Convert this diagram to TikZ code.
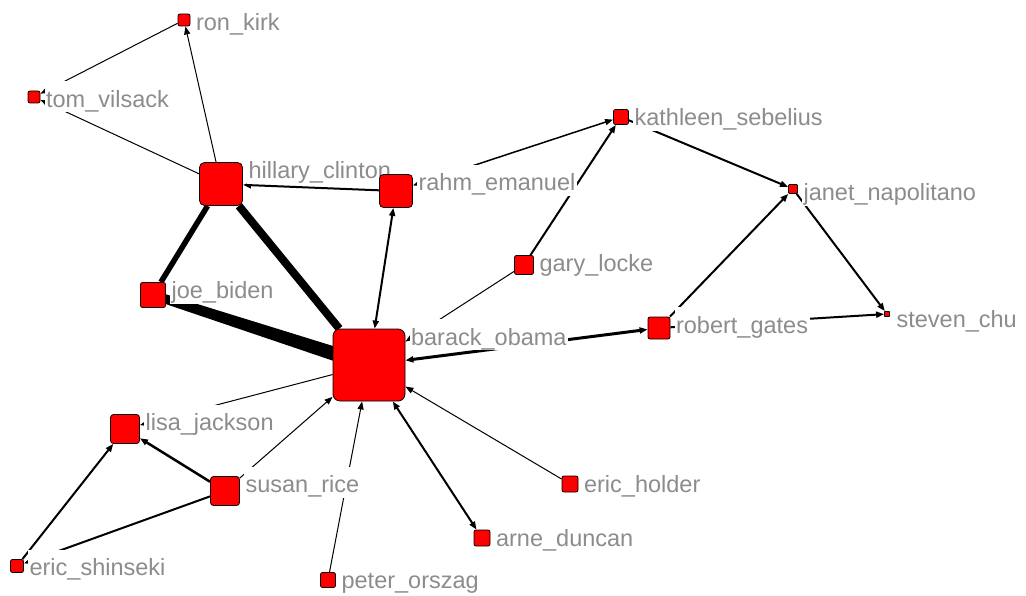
\documentclass[tikz,border=0pt]{standalone}
\usepackage{fontspec}
\setmainfont{Liberation Sans}
\usetikzlibrary{arrows.meta,calc}
\pgfdeclarelayer{edges}
\pgfdeclarelayer{labels}
\pgfsetlayers{edges,labels,main}
\definecolor{lblgray}{RGB}{140,140,140}
\definecolor{nodered}{RGB}{255,0,0}
\begin{document}
\begin{tikzpicture}[x=1pt,y=-1pt,
  actor/.style 2 args={draw=black, line width=0.8pt, fill=nodered, minimum size=#1, inner sep=0pt, rounded corners=#2},
  lbl/.style={anchor=base west, fill=white, inner xsep=1.5pt, inner ysep=1pt, text height=25pt, text depth=4pt, text=lblgray, font=\fontsize{23.5}{28}\selectfont},
  tie/.style={draw=black, line width=#1},
  arr/.style={-{Triangle[length=8pt,width=6pt]}},
  arrtwo/.style={{Triangle[length=8pt,width=6pt]}-{Triangle[length=8pt,width=6pt]}}
]
\useasboundingbox (0,0) rectangle (1026,596);

% nodes
\node[actor={12pt}{2pt}] (ron) at (184,20) {};
\node[actor={12pt}{2pt}] (tom) at (34,97) {};
\node[actor={43pt}{5pt}] (hillary) at (221,184) {};
\node[actor={33pt}{4pt}] (rahm) at (396,191) {};
\node[actor={25pt}{2pt}] (biden) at (153,295) {};
\node[actor={72pt}{7pt}] (barack) at (369,365) {};
\node[actor={15pt}{2pt}] (kathleen) at (621,117) {};
\node[actor={19pt}{2pt}] (gary) at (524,265) {};
\node[actor={9pt}{1pt}] (janet) at (793,189) {};
\node[actor={22pt}{2pt}] (robert) at (659,328) {};
\node[actor={5pt}{0.5pt}] (steven) at (887,314) {};
\node[actor={29pt}{3pt}] (lisa) at (125,429) {};
\node[actor={29pt}{3pt}] (susan) at (225,491) {};
\node[actor={13pt}{2pt}] (shinseki) at (17,566) {};
\node[actor={15pt}{2pt}] (peter) at (328,580) {};
\node[actor={16pt}{2pt}] (holder) at (570,484) {};
\node[actor={16pt}{2pt}] (arne) at (482,538) {};

% edges
\begin{pgfonlayer}{edges}
\draw[tie=1pt, arr] (hillary) -- (ron);
\draw[tie=1pt, arr] (ron) -- (tom);
\draw[tie=1pt, arr] (hillary) -- (tom);
\draw[tie=2pt, arr] (rahm) -- (hillary);
\draw[tie=5.5pt] (hillary) -- (biden);
\draw[tie=8pt] (hillary) -- (barack);
\fill[black] ($(biden)!4.5pt!90:(barack)$) -- ($(barack)!7.5pt!-90:(biden)$)
   -- ($(barack)!7.5pt!90:(biden)$) -- ($(biden)!4.5pt!-90:(barack)$) -- cycle;
\draw[tie=2pt, arrtwo] (rahm) -- (barack);
\draw[tie=1pt, arr] (gary) -- (barack);
\draw[tie=2pt, arr] (gary) -- (kathleen);
\draw[tie=1.5pt, arrtwo] (rahm) -- (kathleen);
\draw[tie=2pt, arr] (kathleen) -- (janet);
\draw[tie=2pt, arr] (robert) -- (janet);
\draw[tie=2pt, arr] (janet) -- (steven);
\draw[tie=2pt, arr] (robert) -- (steven);
\draw[tie=3pt, arrtwo] (barack) -- (robert);
\draw[tie=1pt, arr] (barack) -- (lisa);
\draw[tie=2.5pt, arr] (susan) -- (lisa);
\draw[tie=2pt, arr] (shinseki) -- (lisa);
\draw[tie=2pt, arr] (susan) -- (shinseki);
\draw[tie=1pt, arr] (susan) -- (barack);
\draw[tie=1pt, arr] (peter) -- (barack);
\draw[tie=1pt, arr] (holder) -- (barack);
\draw[tie=2pt, arrtwo] (barack) -- (arne);
\end{pgfonlayer}

% labels
\begin{pgfonlayer}{labels}
\node[lbl] (ron-l) at ($(ron.north east)+(4,16.5)$) {ron\_kirk};
\node[lbl] (tom-l) at ($(tom.north east)+(4,16.5)$) {tom\_vilsack};
\node[lbl] (hillary-l) at ($(hillary.north east)+(4,16.5)$) {hillary\_clinton};
\node[lbl] (rahm-l) at ($(rahm.north east)+(4,16.5)$) {rahm\_emanuel};
\node[lbl] (biden-l) at ($(biden.north east)+(4,16.5)$) {joe\_biden};
\node[lbl] (barack-l) at ($(barack.north east)+(4,16.5)$) {barack\_obama};
\node[lbl] (kathleen-l) at ($(kathleen.north east)+(4,16.5)$) {kathleen\_sebelius};
\node[lbl] (gary-l) at ($(gary.north east)+(4,16.5)$) {gary\_locke};
\node[lbl] (janet-l) at ($(janet.north east)+(4,16.5)$) {janet\_napolitano};
\node[lbl] (robert-l) at ($(robert.north east)+(4,16.5)$) {robert\_gates};
\node[lbl] (steven-l) at ($(steven.north east)+(5,16.5)$) {steven\_chu};
\node[lbl] (lisa-l) at ($(lisa.north east)+(4,16.5)$) {lisa\_jackson};
\node[lbl] (susan-l) at ($(susan.north east)+(4,16.5)$) {susan\_rice};
\node[lbl] (shinseki-l) at ($(shinseki.north east)+(4,16.5)$) {eric\_shinseki};
\node[lbl] (peter-l) at ($(peter.north east)+(4,16.5)$) {peter\_orszag};
\node[lbl] (holder-l) at ($(holder.north east)+(4,16.5)$) {eric\_holder};
\node[lbl] (arne-l) at ($(arne.north east)+(4,16.5)$) {arne\_duncan};
\end{pgfonlayer}
\end{tikzpicture}
\end{document}
